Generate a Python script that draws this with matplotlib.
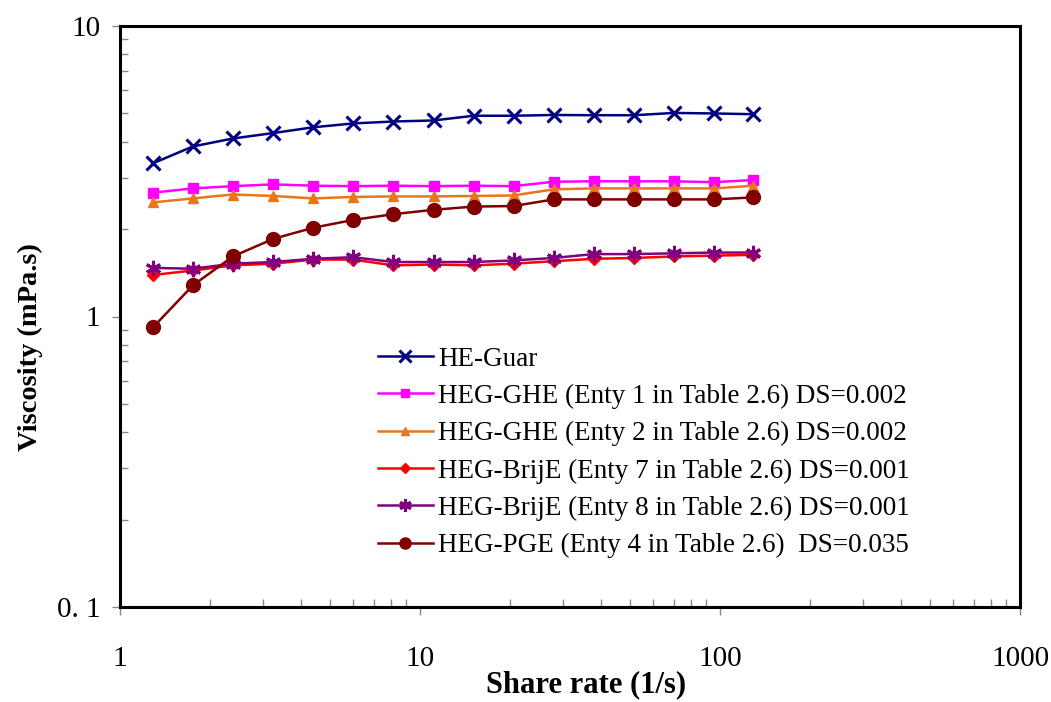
import matplotlib
matplotlib.use("Agg")
import matplotlib.pyplot as plt
import numpy as np
from matplotlib.ticker import LogLocator, FixedLocator, FixedFormatter, NullFormatter

plt.rcParams['font.family'] = ['Liberation Serif', 'DejaVu Serif']

# shear rate (1/s)
rate = [1.29, 1.75, 2.38, 3.24, 4.40, 5.99, 8.14, 11.1, 15.1, 20.5,
        27.9, 37.9, 51.6, 70.2, 95.5, 129.0]

he_guar = [3.37, 3.85, 4.10, 4.28, 4.48, 4.62, 4.69, 4.73, 4.91, 4.91,
           4.94, 4.93, 4.93, 5.02, 5.00, 4.97]
ghe_1 = [2.67, 2.76, 2.81, 2.85, 2.82, 2.81, 2.82, 2.81, 2.82, 2.81,
         2.91, 2.92, 2.92, 2.92, 2.90, 2.95]
ghe_2 = [2.47, 2.55, 2.63, 2.60, 2.55, 2.58, 2.59, 2.59, 2.60, 2.61,
         2.74, 2.76, 2.76, 2.76, 2.76, 2.82]
brij_7 = [1.39, 1.44, 1.50, 1.52, 1.57, 1.57, 1.50, 1.51, 1.50, 1.52,
          1.55, 1.58, 1.59, 1.61, 1.62, 1.63]
brij_8 = [1.47, 1.46, 1.52, 1.54, 1.58, 1.60, 1.54, 1.54, 1.54, 1.56,
          1.59, 1.64, 1.64, 1.65, 1.66, 1.66]
pge_4 = [0.919, 1.28, 1.61, 1.85, 2.02, 2.15, 2.25, 2.33, 2.39, 2.40,
         2.53, 2.53, 2.53, 2.53, 2.53, 2.57]

labels = ['HE-Guar',
          'HEG-GHE (Enty 1 in Table 2.6) DS=0.002',
          'HEG-GHE (Enty 2 in Table 2.6) DS=0.002',
          'HEG-BrijE (Enty 7 in Table 2.6) DS=0.001',
          'HEG-BrijE (Enty 8 in Table 2.6) DS=0.001',
          'HEG-PGE (Enty 4 in Table 2.6)  DS=0.035']

fig = plt.figure(figsize=(10.51, 7.02), dpi=100)
ax = fig.add_axes([120/1051, 1-607/702, 900/1051, 581/702])

lw = 1.8
ax.plot(rate, he_guar, color='#000080', marker='x', ms=10, mew=2.2, lw=lw, label=labels[0])
ax.plot(rate, ghe_1, color='#FF00FF', marker='s', ms=7, lw=lw, label=labels[1])
ax.plot(rate, ghe_2, color='#E8761C', marker='^', ms=7, lw=lw, label=labels[2])
ax.plot(rate, brij_7, color='#FF0000', marker='D', ms=6.5, lw=lw, label=labels[3])
ax.plot(rate, brij_8, color='#800080', marker=(6, 2, 0), ms=11, mew=2.2, lw=lw, label=labels[4])
ax.plot(rate, pge_4, color='#800000', marker='o', ms=10, lw=lw, label=labels[5])

ax.set_xscale('log')
ax.set_yscale('log')
ax.set_xlim(1, 1000)
ax.set_ylim(0.1, 10)

ax.xaxis.set_major_locator(FixedLocator([1, 10, 100, 1000]))
ax.xaxis.set_major_formatter(FixedFormatter(['1', '10', '100', '1000']))
ax.yaxis.set_major_locator(FixedLocator([0.1, 1, 10]))
ax.yaxis.set_major_formatter(FixedFormatter(['0. 1', '1', '10']))
ax.xaxis.set_minor_locator(LogLocator(base=10, subs=np.arange(2, 10)))
ax.yaxis.set_minor_locator(LogLocator(base=10, subs=np.arange(2, 10)))
ax.xaxis.set_minor_formatter(NullFormatter())
ax.yaxis.set_minor_formatter(NullFormatter())

ax.tick_params(which='major', direction='out', length=6, width=1, color='#888888',
               labelsize=21)
ax.tick_params(axis='x', which='major', pad=22)
ax.tick_params(axis='y', which='major', pad=8)
ax.tick_params(which='minor', direction='in', length=6, width=1, color='#888888')
for s in ax.spines.values():
    s.set_linewidth(2.2)

ax.set_xlabel('Share rate (1/s)', fontsize=22, fontweight='bold')
ax.set_ylabel('Viscosity (mPa.s)', fontsize=20.5, fontweight='bold')
ax.xaxis.set_label_coords(0.518, -0.108)
ax.yaxis.set_label_coords(-0.085, 0.447)

ax.legend(loc='lower left', bbox_to_anchor=(0.26, 0.042), frameon=False, fontsize=19.5,
          handlelength=2.0, handletextpad=0.2, labelspacing=0.45, markerscale=0.8)

fig.savefig('out.png', dpi=100)
